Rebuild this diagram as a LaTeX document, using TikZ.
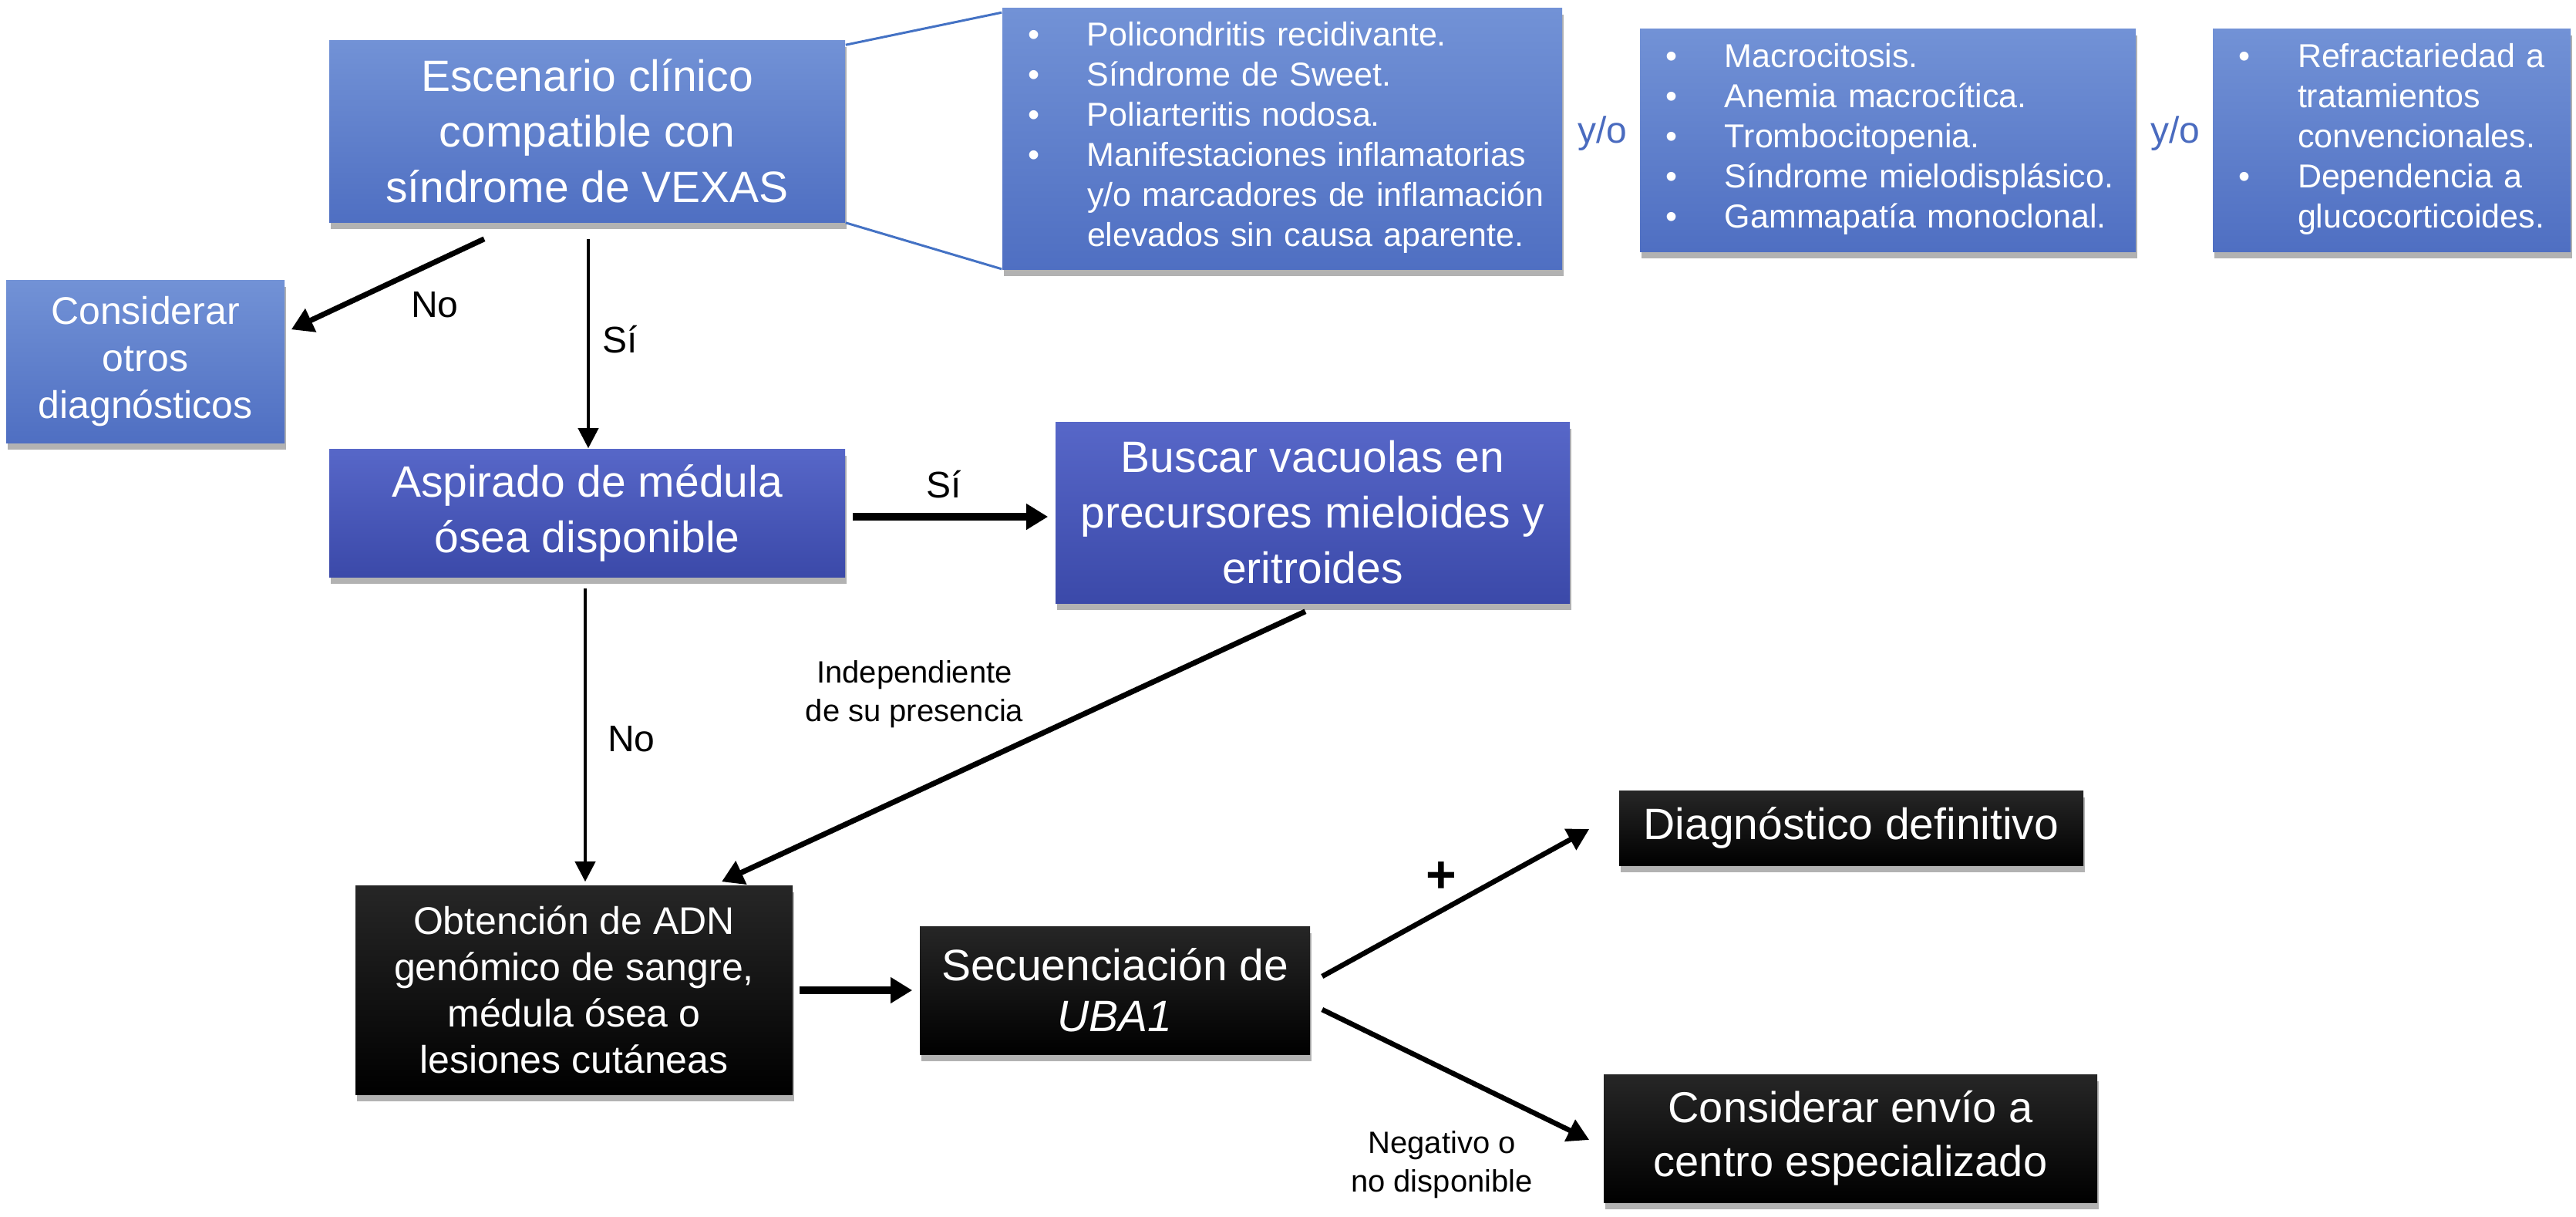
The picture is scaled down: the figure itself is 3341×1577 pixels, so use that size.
\documentclass[tikz,border=0pt]{standalone}
\usepackage{fontspec}
\setmainfont{Liberation Sans}
\usetikzlibrary{arrows.meta,shadows,calc}
\setlength\parindent{0pt}
\definecolor{blueT}{HTML}{7292D6}
\definecolor{blueB}{HTML}{4F6FC2}
\definecolor{indT}{HTML}{5767C8}
\definecolor{indB}{HTML}{3B49A9}
\definecolor{linkblue}{HTML}{4472C4}
\definecolor{yoblue}{HTML}{4A6BBF}
\begin{document}
\begin{tikzpicture}[x=0.25pt,y=-0.25pt,
  sz/.style 2 args={minimum width=#1*0.25pt, minimum height=#2*0.25pt},
  shadowed/.style={drop shadow={shadow xshift=0.4pt, shadow yshift=-2.2pt, opacity=0.3, fill=black}},
  boxbase/.style={rectangle, inner sep=0pt, align=center, text=white, shadowed},
  bluebox/.style={boxbase, top color=blueT, bottom color=blueB},
  indbox/.style={boxbase, top color=indT, bottom color=indB},
  blackbox/.style={boxbase, top color=black!85, bottom color=black},
  bigtxt/.style={font=\fontsize{14.25pt}{18pt}\selectfont},
  midtxt/.style={font=\fontsize{12.5pt}{15.25pt}\selectfont},
  listbox/.style={bluebox, align=left, inner xsep=8.25pt, inner ysep=0pt, font=\fontsize{10.75pt}{13pt}\selectfont},
  lbl/.style={font=\fontsize{12pt}{14pt}\selectfont, inner sep=0pt},
  pluslbl/.style={font=\fontsize{17pt}{19pt}\selectfont\bfseries, inner sep=0pt},
  smalllbl/.style={font=\fontsize{10pt}{12.5pt}\selectfont, align=center, inner sep=0pt},
  yo/.style={font=\fontsize{12pt}{14pt}\selectfont, text=yoblue, inner sep=0pt},
  thinarrow/.style={line width=1pt, -{Triangle[length=6.5pt,width=6.5pt]}},
  medarrow/.style={line width=1.65pt, -{Triangle[length=7pt,width=7.5pt]}},
  thickarrow/.style={line width=1.75pt, -{Triangle[length=7pt,width=8pt]}},
  heavyarrow/.style={line width=2.5pt, -{Triangle[length=7pt,width=8pt]}},
  link/.style={line width=0.75pt, draw=linkblue}
]
\useasboundingbox (0,0) rectangle (3341,1577);

% top row
\node[bluebox, bigtxt, sz={669}{236}] (esc) at (761.5,170) {Escenario clínico\\compatible con\\síndrome de VEXAS};
\node[bluebox, midtxt, sz={361}{211}] (cons) at (188.5,468.5) {Considerar\\otros\\diagnósticos};

\node[listbox, text width=165pt, minimum height=339*0.25pt] (l1) at (1663,179.5) {%
\begin{tabular}{@{}p{19.25pt}@{}l@{}}
•&Policondritis recidivante.\\
•&Síndrome de Sweet.\\
•&Poliarteritis nodosa.\\
•&Manifestaciones inflamatorias\\
&y/o marcadores de inflamación\\
&elevados sin causa aparente.
\end{tabular}};
\node[listbox, text width=144.25pt, minimum height=289*0.25pt] (l2) at (2448.5,181.5) {%
\begin{tabular}{@{}p{19.25pt}@{}l@{}}
•&Macrocitosis.\\
•&Anemia macrocítica.\\
•&Trombocitopenia.\\
•&Síndrome mielodisplásico.\\
•&Gammapatía monoclonal.
\end{tabular}};
\node[listbox, text width=99.5pt, minimum height=289*0.25pt] (l3) at (3102,181.5) {%
\begin{tabular}{@{}p{19.25pt}@{}l@{}}
•&Refractariedad a\\
&tratamientos\\
&convencionales.\\
•&Dependencia a\\
&glucocorticoides.
\end{tabular}};
\node[yo] (yo1) at (2078,173) {y/o};
\node[yo] (yo2) at (2821,173) {y/o};

% middle row
\node[indbox, bigtxt, sz={669}{166}] (asp) at (761.5,665) {Aspirado de médula\\ósea disponible};
\node[indbox, bigtxt, sz={667}{235}] (busc) at (1702.5,664.5) {Buscar vacuolas en\\precursores mieloides y\\eritroides};

% bottom row
\node[blackbox, font=\fontsize{12.5pt}{15pt}\selectfont, sz={567}{271}] (obt) at (744.5,1283.5) {Obtención de ADN\\genómico de sangre,\\médula ósea o\\lesiones cutáneas};
\node[blackbox, font=\fontsize{14.25pt}{16.5pt}\selectfont, sz={506}{166}] (sec) at (1446,1284) {Secuenciación de\\\textit{UBA1}};
\node[blackbox, bigtxt, sz={602}{97}] (diag) at (2401,1073.5) {Diagnóstico definitivo};
\node[blackbox, font=\fontsize{14pt}{17.5pt}\selectfont, sz={640}{166}] (env) at (2400,1476) {Considerar envío a\\centro especializado};

% labels
\node[lbl] (lno1) at (564,395) {No};
\node[lbl] (lsi1) at (804,440) {Sí};
\node[lbl] (lsi2) at (1224,628) {Sí};
\node[lbl] (lno2) at (819,958) {No};
\node[smalllbl] (lind) at (1186,900) {Independiente\\de su presencia};
\node[pluslbl] (lplus) at (1869,1138) {+};
\node[smalllbl] (lneg) at (1870,1510) {Negativo o\\no disponible};

% connectors
\draw[link] ($(esc.north east)+(0,7)$) -- ($(l1.north west)+(0,7)$);
\draw[link] (esc.south east) -- ($(l1.south west)+(0,-1)$);
\draw[thickarrow] ($(esc.south)+(-133.5,21)$) -- ($(cons.north east)+(8,65)$);
\draw[thinarrow] ($(esc.south)+(1.5,21)$) -- ($(asp.north)+(1.5,0)$);
\draw[heavyarrow] ($(asp.east)+(9,5)$) -- ($(busc.west)+(-9,5.5)$);
\draw[thinarrow] ($(asp.south)+(-2.5,14)$) -- ($(obt.north)+(14.5,-4)$);
\draw[thickarrow] ($(busc.south)+(-9.5,10)$) -- ($(obt.north)+(191.5,-4)$);
\draw[heavyarrow] ($(obt.east)+(8,0.5)$) -- ($(sec.west)+(-9,0)$);
\draw[medarrow] ($(sec.east)+(15,-18)$) -- ($(diag.west)+(-38,1.5)$);
\draw[medarrow] ($(sec.east)+(15,25)$) -- ($(env.west)+(-18,2)$);
\end{tikzpicture}
\end{document}
